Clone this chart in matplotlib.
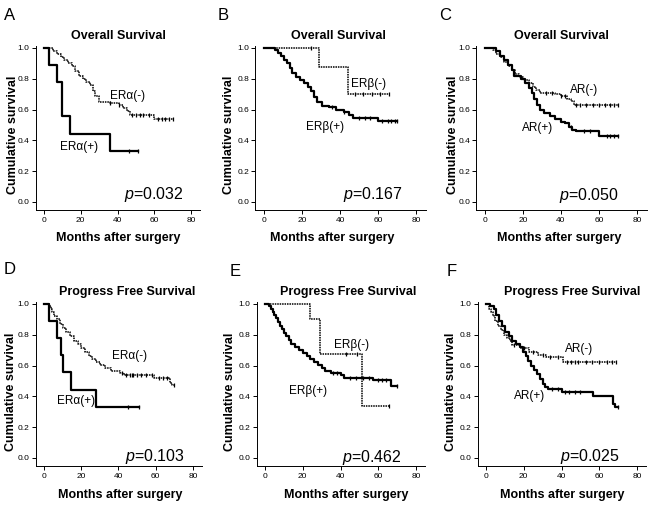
import matplotlib
matplotlib.use("Agg")
import matplotlib.pyplot as plt

plt.rcParams['font.family'] = ['Liberation Sans', 'DejaVu Sans']
plt.rcParams['mathtext.fontset'] = 'custom'
plt.rcParams['mathtext.it'] = 'Liberation Sans:italic'
plt.rcParams['mathtext.rm'] = 'Liberation Sans'

# ---- data (months, cumulative survival) ----
# A: overall survival, ER alpha
a_neg_t = [0, 5, 7, 9, 11, 13, 15, 17, 19, 21, 23, 25, 26.5, 28, 30, 36, 41, 43, 45, 47, 60]
a_neg_s = [1.0, 0.98, 0.96, 0.94, 0.92, 0.9, 0.88, 0.85, 0.82, 0.80, 0.78, 0.76, 0.72, 0.69, 0.65, 0.64, 0.63, 0.61, 0.59, 0.565, 0.54]
a_neg_end = 70
a_neg_cens = [36, 41, 48, 50, 52, 54, 57, 62, 64, 66, 68, 70]
a_pos_t = [0, 2.6, 7, 9.8, 14, 36]
a_pos_s = [1.0, 0.889, 0.778, 0.556, 0.444, 0.333]
a_pos_end = 51
a_pos_cens = [46, 51]

# B: overall survival, ER beta
b_neg_t = [0, 29, 44]
b_neg_s = [1.0, 0.875, 0.70]
b_neg_end = 66
b_neg_cens = [25, 48, 52, 57, 61, 66]
b_pos_t = [0, 6, 7.5, 9, 10.5, 12, 13.5, 15, 17, 19, 21, 23, 25, 26.5, 28, 30.5, 34, 38, 42, 44.5, 47, 60]
b_pos_s = [1.0, 0.985, 0.97, 0.95, 0.925, 0.9, 0.87, 0.84, 0.81, 0.79, 0.77, 0.745, 0.72, 0.68, 0.65, 0.625, 0.615, 0.60, 0.585, 0.565, 0.545, 0.525]
b_pos_end = 70
b_pos_cens = [36, 42, 50, 53, 56, 62, 65, 67, 69, 70]

# C: overall survival, AR
c_neg_t = [0, 4, 6, 8, 10, 12, 14, 16, 18, 20, 23, 25, 27, 29, 37, 40, 43, 45, 47]
c_neg_s = [1.0, 0.985, 0.96, 0.94, 0.91, 0.88, 0.86, 0.83, 0.81, 0.79, 0.77, 0.745, 0.725, 0.71, 0.70, 0.69, 0.67, 0.655, 0.63]
c_neg_end = 70
c_neg_cens = [32, 35, 40, 42, 48, 50, 53, 57, 60, 63, 66, 68, 70]
c_pos_t = [0, 6, 8, 10, 12, 14, 15.5, 19, 21, 23, 24.5, 26, 27.5, 29, 31, 34, 37, 40, 42, 44, 46, 48, 60]
c_pos_s = [1.0, 0.98, 0.95, 0.92, 0.89, 0.86, 0.82, 0.80, 0.77, 0.74, 0.71, 0.67, 0.63, 0.60, 0.575, 0.56, 0.54, 0.52, 0.51, 0.49, 0.47, 0.46, 0.43]
c_pos_end = 70
c_pos_cens = [45, 52, 55, 64, 66, 68, 70]

# D: progress free survival, ER alpha
d_neg_t = [0, 2.5, 3.5, 4.5, 5.5, 7, 8.5, 10, 12, 14, 16, 18, 20, 22, 24, 26, 28, 30, 32.5, 36, 41, 43, 59, 67.5, 68.5]
d_neg_s = [1.0, 0.985, 0.965, 0.945, 0.92, 0.9, 0.87, 0.845, 0.815, 0.79, 0.76, 0.74, 0.715, 0.69, 0.665, 0.645, 0.625, 0.605, 0.585, 0.565, 0.55, 0.54, 0.52, 0.49, 0.475]
d_neg_end = 70
d_neg_cens = [42, 44, 46, 47, 48, 50, 52, 55, 58, 62, 64, 66, 70]
d_pos_t = [0, 2.9, 7.2, 8.9, 10.4, 14.3, 27.9]
d_pos_s = [1.0, 0.889, 0.778, 0.667, 0.556, 0.444, 0.333]
d_pos_end = 51
d_pos_cens = [45, 51]

# E: progress free survival, ER beta
e_neg_t = [0, 24, 29, 51.5]
e_neg_s = [1.0, 0.9, 0.675, 0.338]
e_neg_end = 65.5
e_neg_cens = [43, 49, 65.5]
e_pos_t = [0, 2, 3, 4, 5, 6, 7, 8, 9, 10, 11, 12.5, 14, 16, 18, 20, 22, 24, 26, 28, 30, 32, 35, 40, 42, 57, 66.5]
e_pos_s = [1.0, 0.985, 0.97, 0.95, 0.93, 0.91, 0.885, 0.86, 0.835, 0.81, 0.79, 0.765, 0.74, 0.72, 0.70, 0.68, 0.66, 0.645, 0.625, 0.605, 0.585, 0.565, 0.55, 0.54, 0.52, 0.505, 0.465]
e_pos_end = 70
e_pos_cens = [36, 38, 45, 48, 52, 55, 60, 62, 64, 70]

# F: progress free survival, AR
f_neg_t = [0, 1.5, 2.5, 3.5, 5, 6.5, 8, 9.5, 11, 12.5, 14, 18, 23, 27.5, 32, 41]
f_neg_s = [1.0, 0.97, 0.95, 0.92, 0.89, 0.86, 0.83, 0.80, 0.78, 0.76, 0.735, 0.715, 0.69, 0.67, 0.655, 0.625]
f_neg_end = 69
f_neg_cens = [15, 20, 25, 30, 34, 38, 43, 45, 47, 49, 53, 56, 60, 64, 67, 69]
f_pos_t = [0, 2, 4.5, 5.5, 7, 8.5, 10, 12, 14, 16, 18, 19.5, 21, 22.5, 24, 25.5, 27, 28.5, 30, 31.5, 33, 40, 56.5, 67.5, 68.5]
f_pos_s = [1.0, 0.985, 0.97, 0.93, 0.89, 0.86, 0.82, 0.79, 0.76, 0.74, 0.72, 0.69, 0.66, 0.63, 0.60, 0.57, 0.545, 0.51, 0.48, 0.46, 0.445, 0.43, 0.40, 0.35, 0.33]
f_pos_end = 70
f_pos_cens = [35, 38, 42, 44, 47, 50, 70]

letters = ['A', 'B', 'C', 'D', 'E', 'F']
titles = ['Overall Survival'] * 3 + ['Progress Free Survival'] * 3
neg_labels = ['ERα(-)', 'ERβ(-)', 'AR(-)', 'ERα(-)', 'ERβ(-)', 'AR(-)']
pos_labels = ['ERα(+)', 'ERβ(+)', 'AR(+)', 'ERα(+)', 'ERβ(+)', 'AR(+)']
p_values = ['0.032', '0.167', '0.050', '0.103', '0.462', '0.025']

curves = [
    (a_neg_t, a_neg_s, a_neg_end, a_neg_cens, a_pos_t, a_pos_s, a_pos_end, a_pos_cens),
    (b_neg_t, b_neg_s, b_neg_end, b_neg_cens, b_pos_t, b_pos_s, b_pos_end, b_pos_cens),
    (c_neg_t, c_neg_s, c_neg_end, c_neg_cens, c_pos_t, c_pos_s, c_pos_end, c_pos_cens),
    (d_neg_t, d_neg_s, d_neg_end, d_neg_cens, d_pos_t, d_pos_s, d_pos_end, d_pos_cens),
    (e_neg_t, e_neg_s, e_neg_end, e_neg_cens, e_pos_t, e_pos_s, e_pos_end, e_pos_cens),
    (f_neg_t, f_neg_s, f_neg_end, f_neg_cens, f_pos_t, f_pos_s, f_pos_end, f_pos_cens),
]

# ---- layout (pixels in a 650x505 picture) ----
W, H = 650, 505
XLIM = (-4.5, 85)
YLIM = (-0.055, 1.01)
# pixel of x=0, x=80, y=0, y=1
anchors = [(44, 191, 202, 48), (264, 416, 202, 48), (485, 637, 202, 48),
           (44, 193, 458, 304), (265, 416, 458, 304), (486, 637, 458, 304)]
letter_pos = [(10, 15), (223, 15), (445, 15), (10, 270), (235, 271), (452, 271)]
title_pos = [(118, 36), (338, 36), (561, 36), (127, 292), (348, 292), (572, 292)]
ylab_pos = [(13, 135), (229, 135), (453, 135), (11, 392), (230, 392), (451, 392)]
xlab_pos = [(118, 238), (332, 238), (559, 238), (120, 495), (346, 495), (562, 495)]
neg_lab_xy = [(36, 0.69), (45.7, 0.768), (44.8, 0.73), (36.5, 0.663), (36.4, 0.734), (42, 0.705)]
pos_lab_xy = [(8.9, 0.357), (22.3, 0.487), (19.7, 0.483), (7, 0.367), (12.7, 0.432), (14.7, 0.40)]
p_xy = [(43.3, 0.048), (41.7, 0.048), (39, 0.043), (43.6, 0.01), (40.8, 0.006), (39.4, 0.01)]


def fx(px):
    return px / W


def fy(py):
    return 1 - py / H


fig = plt.figure(figsize=(6.5, 5.05), dpi=100)

for i in range(6):
    x0, x80, y0, y1 = anchors[i]
    sx = (x80 - x0) / 80.0
    sy = (y0 - y1) / 1.0
    left = x0 + XLIM[0] * sx
    right = x0 + XLIM[1] * sx
    bottom = y0 - YLIM[0] * sy
    top = y0 - YLIM[1] * sy
    ax = fig.add_axes([fx(left), fy(bottom), fx(right - left), (bottom - top) / H])
    ax.set_xlim(*XLIM)
    ax.set_ylim(*YLIM)

    nt, ns, nend, ncens, pt, ps, pend, pcens = curves[i]

    # (-) group: thin dotted
    ax.step(nt + [nend], ns + [ns[-1]], where='post', color='black',
            lw=1.1, linestyle=(0, (1, 0.6)))
    cs = [ns[max(k for k in range(len(nt)) if nt[k] <= c)] for c in ncens]
    ax.plot(ncens, cs, linestyle='none', marker='|', ms=3, mew=0.9, color='black')

    # (+) group: solid
    ax.step(pt + [pend], ps + [ps[-1]], where='post', color='black', lw=1.6)
    cs = [ps[max(k for k in range(len(pt)) if pt[k] <= c)] for c in pcens]
    ax.plot(pcens, cs, linestyle='none', marker='|', ms=3, mew=0.9, color='black')

    ax.text(neg_lab_xy[i][0], neg_lab_xy[i][1], neg_labels[i], fontsize=8.5,
            ha='left', va='center')
    ax.text(pos_lab_xy[i][0], pos_lab_xy[i][1], pos_labels[i], fontsize=8.5,
            ha='left', va='center')
    ax.text(p_xy[i][0], p_xy[i][1], r'$p$=' + p_values[i], fontsize=11.5,
            ha='left', va='center')

    ax.set_xticks([0, 20, 40, 60, 80])
    ax.set_yticks([0.0, 0.2, 0.4, 0.6, 0.8, 1.0])
    ax.set_yticklabels(['0.0', '0.2', '0.4', '0.6', '0.8', '1.0'])
    ax.tick_params(direction='out', length=3, width=0.7, labelsize=6, pad=1.5)
    for side in ['top', 'right']:
        ax.spines[side].set_visible(False)
    for side in ['left', 'bottom']:
        ax.spines[side].set_linewidth(0.7)

    fig.text(fx(letter_pos[i][0]), fy(letter_pos[i][1]), letters[i], fontsize=12,
             ha='center', va='center')
    fig.text(fx(title_pos[i][0]), fy(title_pos[i][1]), titles[i], fontsize=9,
             fontweight='bold', ha='center', va='center')
    fig.text(fx(ylab_pos[i][0]), fy(ylab_pos[i][1]), 'Cumulative survival', fontsize=9,
             fontweight='bold', ha='center', va='center', rotation=90)
    fig.text(fx(xlab_pos[i][0]), fy(xlab_pos[i][1]), 'Months after surgery', fontsize=9,
             fontweight='bold', ha='center', va='center')

fig.savefig('out.png', dpi=100, facecolor='white')
